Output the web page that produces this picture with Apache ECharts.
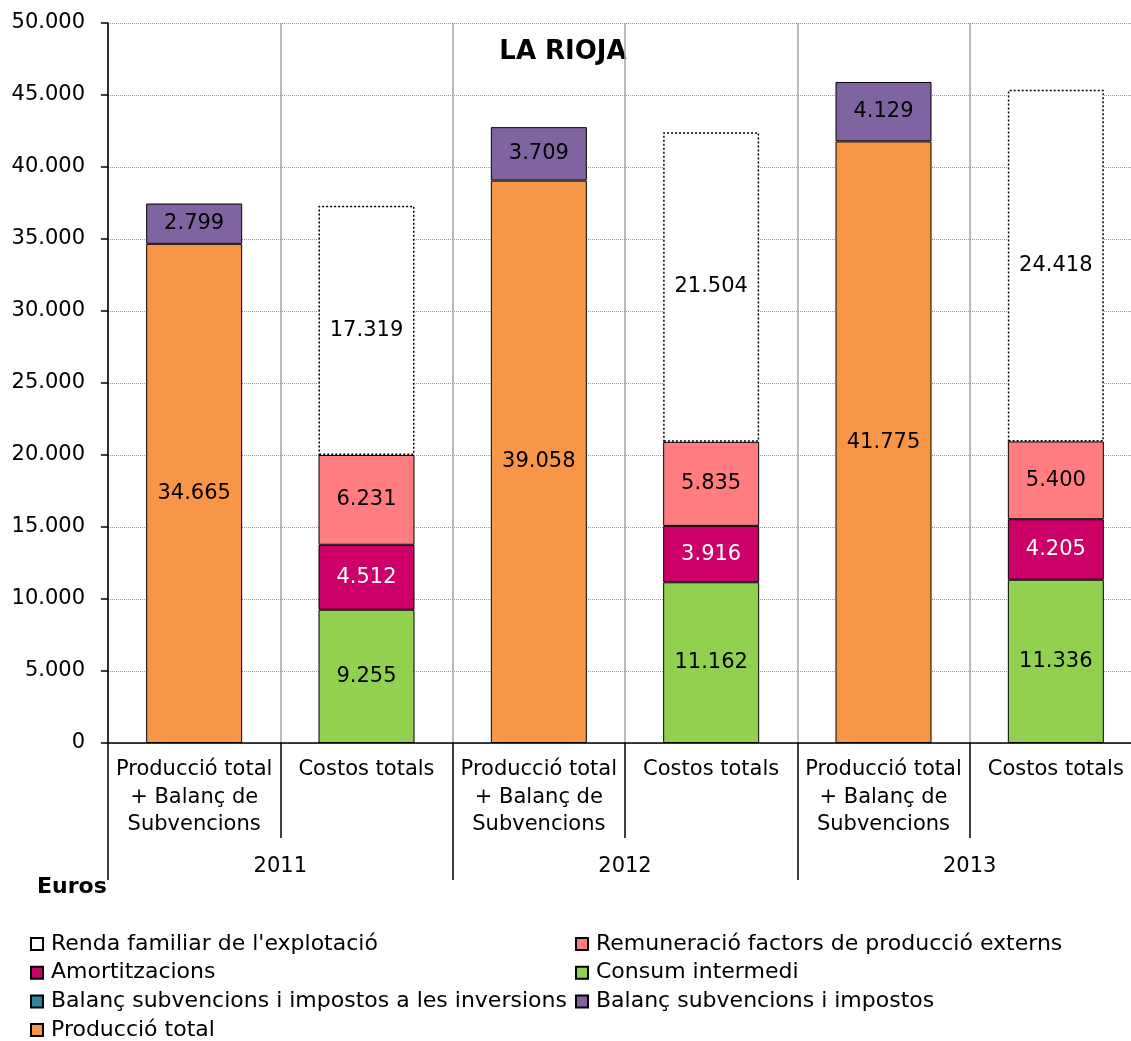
<!DOCTYPE html>
<html><head><meta charset="utf-8">
<script src="https://cdn.jsdelivr.net/npm/echarts@6/dist/echarts.min.js"></script>
<style>html,body{margin:0;padding:0;overflow:hidden;background:#fff;width:1131px;height:1041px}#c{width:1143px;height:1080px}</style>
</head><body><div id="c"></div>
<script>
const categories = ['Producció total\n+ Balanç de\nSubvencions','Costos totals','Producció total\n+ Balanç de\nSubvencions','Costos totals','Producció total\n+ Balanç de\nSubvencions','Costos totals'];
const years = ['2011','2012','2013'];
const consumIntermedi = ['-', 9255, '-', 11162, '-', 11336];
const amortitzacions = ['-', 4512, '-', 3916, '-', 4205];
const remuneracio = ['-', 6231, '-', 5835, '-', 5400];
const rendaFamiliar = ['-', 17319, '-', 21504, '-', 24418];
const produccioTotal = [34665, '-', 39058, '-', 41775, '-'];
const balancInversions = ['-', '-', '-', '-', '-', '-'];
const balancSubvencions = [2799, '-', 3709, '-', 4129, '-'];
const yTicks = [0, 5000, 10000, 15000, 20000, 25000, 30000, 35000, 40000, 45000, 50000];

const FONT = '"DejaVu Sans", "Liberation Sans", Arial, sans-serif';
const fmt = v => String(v).replace(/\B(?=(\d{3})+(?!\d))/g, '.');
function bar(name, data, color, labelColor, extra) {
  return Object.assign({
    name, type: 'bar', stack: 'a', data, barWidth: 96,
    itemStyle: {color, borderColor: '#000', borderWidth: 1},
    label: {show: true, position: 'inside', color: labelColor, fontFamily: FONT, fontSize: 21,
      formatter: p => fmt(p.value)},
    emphasis: {disabled: true}
  }, extra || {});
}
const legendText = {fontFamily: FONT, fontSize: 22, lineHeight: 24, color: '#000', padding: [0, 0, 0, 3]};
const chart = echarts.init(document.getElementById('c'), null, {renderer: 'canvas'});
chart.setOption({
  animation: false,
  backgroundColor: '#fff',
  textStyle: {fontFamily: FONT},
  grid: {left: 108, top: 23, right: 1, bottom: 337},
  xAxis: [{
    type: 'category', data: categories, position: 'bottom',
    axisLine: {show: true, lineStyle: {color: '#000', width: 1.5}},
    axisTick: {show: true, interval: 0, length: 95, lineStyle: {color: '#000', width: 1.5}},
    axisLabel: {interval: 0, margin: 13, color: '#000', fontFamily: FONT, fontSize: 21, lineHeight: 27.5},
    splitLine: {show: true, interval: 0, lineStyle: {color: '#a6a6a6', width: 1.5}}
  }, {
    type: 'category', data: years, position: 'bottom',
    axisLine: {show: false},
    axisTick: {show: true, interval: 0, length: 137, lineStyle: {color: '#000', width: 1.5}},
    axisLabel: {interval: 0, margin: 113, color: '#000', fontFamily: FONT, fontSize: 21},
    splitLine: {show: false}
  }],
  yAxis: {
    type: 'value', min: 0, max: 50000, interval: 5000,
    axisLine: {show: true, lineStyle: {color: '#000', width: 1.5}},
    axisTick: {show: true, length: 7, lineStyle: {color: '#000', width: 1.5}},
    axisLabel: {margin: 23, color: '#000', fontFamily: FONT, fontSize: 21,
      formatter: v => yTicks.indexOf(v) >= 0 ? fmt(v) : ''},
    splitLine: {show: true, lineStyle: {color: '#999', type: [1, 1], width: 1}}
  },
  legend: [{
    orient: 'vertical', left: 30, top: 932, padding: 0, itemWidth: 12, itemHeight: 12, itemGap: 4.7,
    icon: 'rect', textStyle: legendText,
    data: ['Renda familiar de l\'explotació', 'Amortitzacions', 'Balanç subvencions i impostos a les inversions', 'Producció total']
  }, {
    orient: 'vertical', left: 575, top: 932, padding: 0, itemWidth: 12, itemHeight: 12, itemGap: 4.7,
    icon: 'rect', textStyle: legendText,
    data: ['Remuneració factors de producció externs', 'Consum intermedi', 'Balanç subvencions i impostos']
  }],
  graphic: [{
    type: 'text', x: 563, y: 52,
    style: {text: 'LA RIOJA', font: 'bold 26px ' + FONT, fill: '#000', textAlign: 'center', textVerticalAlign: 'middle'}
  }, {
    type: 'text', x: 37, y: 887,
    style: {text: 'Euros', font: 'bold 22px ' + FONT, fill: '#000', textAlign: 'left', textVerticalAlign: 'middle'}
  }],
  series: [
    bar('Consum intermedi', consumIntermedi, '#92d050', '#000'),
    bar('Amortitzacions', amortitzacions, '#cc0066', '#fff'),
    bar('Remuneració factors de producció externs', remuneracio, '#ff7c80', '#000'),
    bar('Renda familiar de l\'explotació', rendaFamiliar, '#fff', '#000',
      {itemStyle: {color: '#fff', borderColor: '#000', borderWidth: 1.5, borderType: [2, 2]}}),
    bar('Producció total', produccioTotal, '#f79646', '#000'),
    bar('Balanç subvencions i impostos a les inversions', balancInversions, '#31849b', '#000'),
    bar('Balanç subvencions i impostos', balancSubvencions, '#8064a2', '#000')
  ]
});
</script></body></html>
